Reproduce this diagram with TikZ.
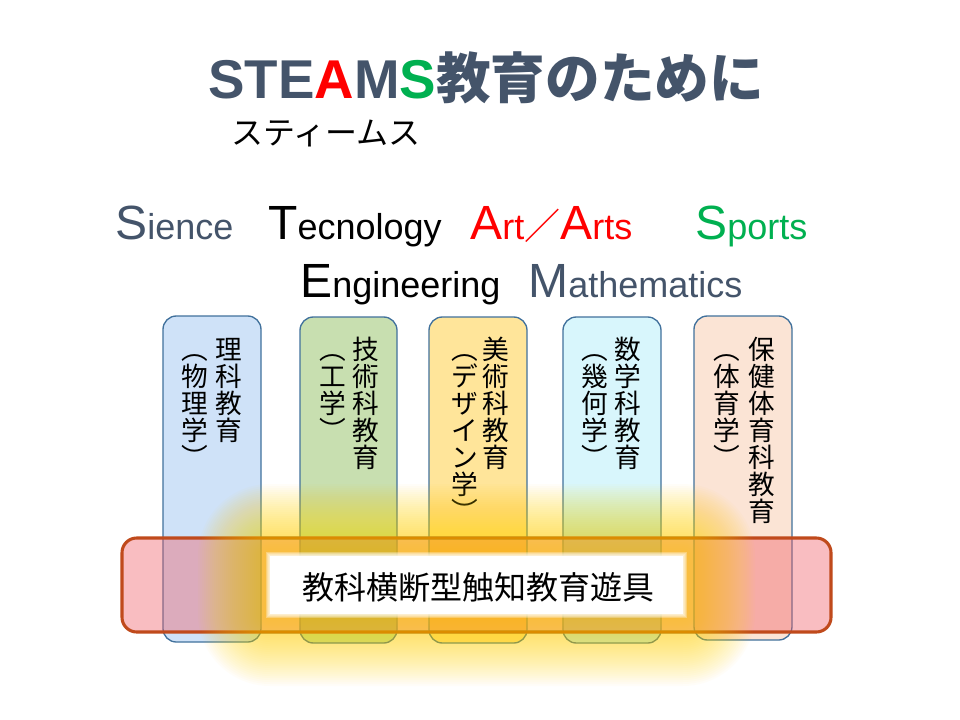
\documentclass[tikz,border=0pt]{standalone}
\usepackage{fontspec}
\setmainfont{Liberation Sans}
\newfontfamily\cjk{Noto Sans CJK JP}
\definecolor{slate}{HTML}{44546A}
\definecolor{redA}{HTML}{FF0000}
\definecolor{greenS}{HTML}{00B050}
\definecolor{colA}{HTML}{CFE2F8}
\definecolor{colB}{HTML}{C8DFB0}
\definecolor{colC}{HTML}{FFE59A}
\definecolor{colD}{HTML}{D8F6FC}
\definecolor{colE}{HTML}{FBE4D5}
\definecolor{colborder}{HTML}{41719C}
\definecolor{bandfill}{HTML}{F05A64}
\definecolor{bandborder}{HTML}{C04A1C}
\definecolor{glowc}{HTML}{FFD800}
\newcommand\stword[2]{{\fontsize{36}{40}\selectfont #1}{\fontsize{27}{30}\selectfont #2}}
\tikzset{
  colbox/.style={draw=colborder, line width=1pt, rounded corners=10pt},
  vchar/.style={anchor=base, inner sep=0pt, font=\cjk\fontsize{20}{20}\selectfont},
  word/.style={anchor=base west, inner sep=0pt},
}
\newcommand\vtext[4]{%
  \foreach \ch [count=\i] in {#4} {
    \node[vchar] (#3-\i) at ({#1},{#2+27*(\i-1)}) {\ch};
  }%
}
\begin{document}
\begin{tikzpicture}[x=0.75pt,y=-0.75pt]
\useasboundingbox (0,0) rectangle (960,720);
\fill[white] (0,0) rectangle (960,720);

% title
\node[word] (title) at (208,99) {\fontsize{41}{45}\selectfont\bfseries\color{slate}STE{\color{redA}A}M{\color{greenS}S}\cjk 教育のために};
\node[word] (sub) at (231,145) {\cjk\fontsize{24}{28}\selectfont スティームス};

% words
\node[word, text=slate] (sci) at (115,240) {\stword{S}{ience}};
\node[word, text=black] (tec) at (268,240) {\stword{T}{ecnology}};
\node[word, text=redA] (art) at (470,240) {\stword{A}{rt{\cjk ／}}\stword{A}{rts}};
\node[word, text=greenS] (spo) at (695,240) {\stword{S}{ports}};
\node[word, text=black] (eng) at (300,297) {\stword{E}{ngineering}};
\node[word, text=slate] (mat) at (528,297) {\stword{M}{athematics}};

% columns
\draw[colbox, fill=colA] (163,316) rectangle (261,642);
\draw[colbox, fill=colB] (300,317) rectangle (397,643);
\draw[colbox, fill=colC] (429,317) rectangle (527,643);
\draw[colbox, fill=colD] (563,317) rectangle (661,643);
\draw[colbox, fill=colE] (694,316) rectangle (792,640);

\vtext{229}{359}{c1r}{理,科,教,育}
\vtext{195}{359}{c1l}{︵,物,理,学,︶}
\vtext{366}{359}{c2r}{技,術,科,教,育}
\vtext{333}{359}{c2l}{︵,工,学,︶}
\vtext{496}{359}{c3r}{美,術,科,教,育}
\vtext{465}{359}{c3l}{︵,デ,ザ,イ,ン,学,︶}
\vtext{628}{359}{c4r}{数,学,科,教,育}
\vtext{595}{359}{c4l}{︵,幾,何,学,︶}
\vtext{762}{359}{c5r}{保,健,体,育,科,教,育}
\vtext{727}{359}{c5l}{︵,体,育,学,︶}

% band
\fill[bandfill, fill opacity=0.4, rounded corners=11pt] (122,538) rectangle (831,632);
\draw[bandborder, line width=2.3pt, rounded corners=11pt] (122,538) rectangle (831,632);

% glow around the text box
\foreach \d in {72,70,...,2} {
  \pgfmathsetmacro\rr{\d*0.75}
  \fill[glowc, fill opacity=0.026, rounded corners=\rr pt] ({270-\d},{556-\d}) rectangle ({683+\d},{614+\d});
}

% white text box with soft edge
\foreach \d in {4,3,2,1} {
  \fill[white, fill opacity=0.3] ({270-\d},{556-\d}) rectangle ({683+\d},{614+\d});
}
\fill[white] (270,556) rectangle (683,614);
\node[anchor=base, inner sep=0pt, font=\cjk\fontsize{24}{28}\selectfont] (toy) at (478,599) {教科横断型触知教育遊具};
\end{tikzpicture}
\end{document}
